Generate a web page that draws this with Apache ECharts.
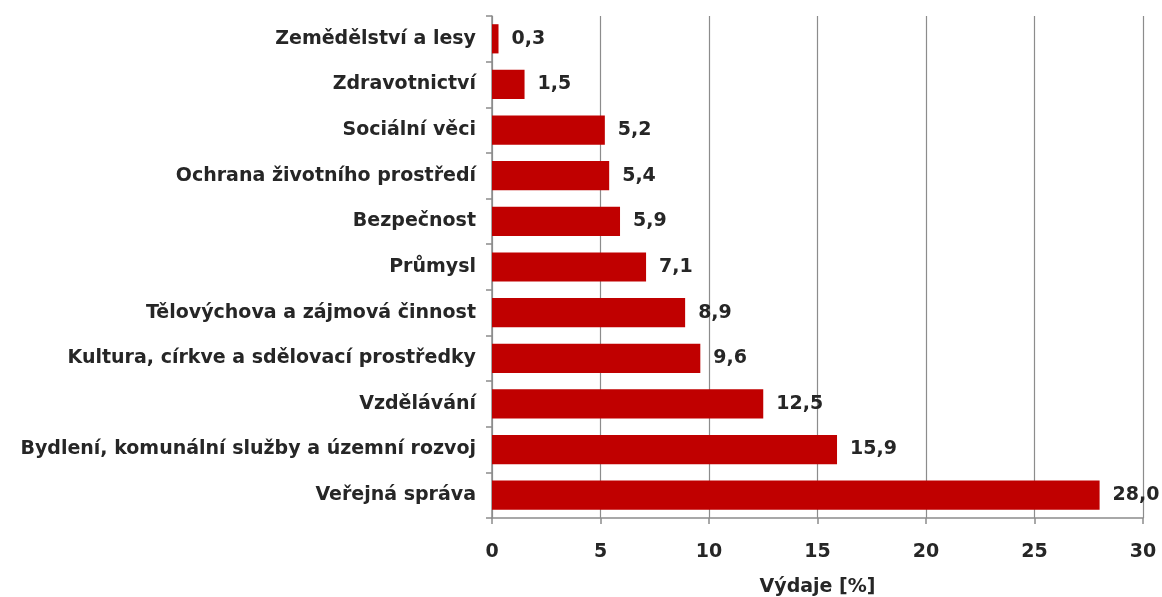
<!DOCTYPE html>
<html><head><meta charset="utf-8">
<script src="https://cdn.jsdelivr.net/npm/echarts@6/dist/echarts.min.js"></script>
<style>html,body{margin:0;padding:0;background:#fff}#c{width:1162px;height:597px}</style>
</head><body><div id="c"></div>
<script>
const categories = ["Zemědělství a lesy","Zdravotnictví","Sociální věci","Ochrana životního prostředí","Bezpečnost","Průmysl","Tělovýchova a zájmová činnost","Kultura, církve a sdělovací prostředky","Vzdělávání","Bydlení, komunální služby a územní rozvoj","Veřejná správa"];
const values = [0.3,1.5,5.2,5.4,5.9,7.1,8.9,9.6,12.5,15.9,28.0];
const axisName = "Výdaje [%]";
const font = "'DejaVu Sans', sans-serif";
const fw = 'bold';
const fs = 19;
const chart = echarts.init(document.getElementById('c'));
chart.setOption({
  animation:false,
  grid:{left:492,right:19,top:16,bottom:79,containLabel:false,outerBoundsMode:'none'},
  xAxis:{type:'value',min:0,max:30,interval:5,
    name:axisName,nameLocation:'middle',nameGap:60,
    nameTextStyle:{color:'#262626',fontSize:fs,fontWeight:fw,fontFamily:font},
    axisLine:{show:true,lineStyle:{color:'#8c8c8c',width:1.5}},
    axisTick:{show:true,length:6,lineStyle:{color:'#8c8c8c',width:1.5}},
    axisLabel:{color:'#262626',fontSize:fs,fontWeight:fw,fontFamily:font,margin:25},
    splitLine:{show:true,lineStyle:{color:'#8c8c8c',width:1.2}}},
  yAxis:{type:'category',data:categories,inverse:true,
    axisLine:{show:true,lineStyle:{color:'#8c8c8c',width:1.5}},
    axisTick:{show:true,length:6,lineStyle:{color:'#8c8c8c',width:1.5}},
    axisLabel:{color:'#262626',fontSize:fs,fontWeight:fw,fontFamily:font,margin:16}},
  series:[{type:'bar',data:values,barCategoryGap:'36%',
    itemStyle:{color:'#C00000'},
    label:{show:true,position:'right',distance:13,color:'#262626',fontSize:fs,fontWeight:fw,fontFamily:font,
      formatter:p=>p.value.toFixed(1).replace('.',',')}}]
});
</script></body></html>
